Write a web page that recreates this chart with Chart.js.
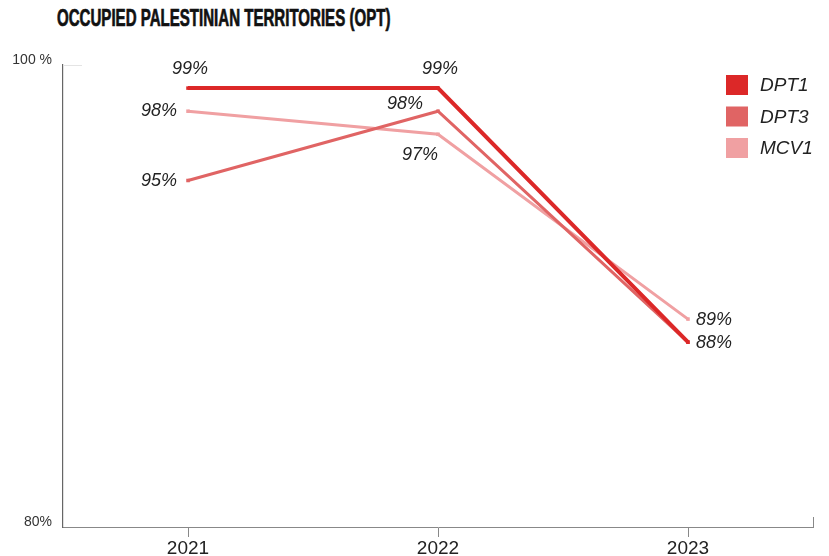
<!DOCTYPE html>
<html>
<head>
<meta charset="utf-8">
<script src="https://cdn.jsdelivr.net/npm/chart.js@4.4.1/dist/chart.umd.min.js"></script>
<style>
  html, body { margin: 0; padding: 0; background: #fff; }
  #wrap { position: relative; width: 829px; height: 556px; }
  #title {
    position: absolute; left: 57px; top: 5px;
    font-family: "Liberation Sans", Arial, sans-serif;
    font-weight: 700; font-size: 23px; color: #111;
    -webkit-text-stroke: 0.7px #111;
    white-space: nowrap; transform-origin: left top; transform: scaleX(0.655);
  }
  canvas { position: absolute; left: 0; top: 0; }
</style>
</head>
<body>
<div id="wrap">
  <div id="title">OCCUPIED PALESTINIAN TERRITORIES (OPT)</div>
  <canvas id="chart" width="829" height="556"></canvas>
</div>
<script>
(function () {
    "use strict";

    // data
    const years = ["2021", "2022", "2023"];
    const seriesNames = ["DPT1", "DPT3", "MCV1"];
    const dpt1 = [99, 99, 88];
    const dpt3 = [95, 98, 88];
    const mcv1 = [98, 97, 89];
    const yTicks = [80, 100];
    const yTickText = { 80: "80%", 100: "100 %" };

    const colors = ["rgb(220,40,40)", "rgb(224,100,100)", "rgb(240,160,162)"];
    const widths = [4, 3, 3];
    // where each value label sits relative to its point
    const labelPos = [
        ["above", "above", "right"],
        ["left", "aboveLeft", null],
        ["left", "belowLeft", "right"],
    ];

    const labelFont = 'italic 18px "Liberation Sans", Arial, sans-serif';

    const valueLabels = {
        id: "valueLabels",
        afterDatasetsDraw(chart) {
            const ctx = chart.ctx;
            ctx.save();
            ctx.font = labelFont;
            ctx.fillStyle = "#222";
            ctx.textBaseline = "middle";
            chart.data.datasets.forEach((ds, i) => {
                const meta = chart.getDatasetMeta(i);
                meta.data.forEach((pt, j) => {
                    const pos = labelPos[i][j];
                    if (!pos) return;
                    const txt = ds.data[j] + "%";
                    let x = pt.x, y = pt.y;
                    if (pos === "above") { ctx.textAlign = "center"; x += 2; y -= 19; }
                    else if (pos === "right") { ctx.textAlign = "left"; x += 8; y += 1; }
                    else if (pos === "left") { ctx.textAlign = "right"; x -= 11; }
                    else if (pos === "aboveLeft") { ctx.textAlign = "center"; x -= 33; y -= 7; }
                    else if (pos === "belowLeft") { ctx.textAlign = "center"; x -= 18; y += 21; }
                    ctx.fillText(txt, x, y);
                });
            });
            ctx.restore();
        },
    };

    const legendBox = {
        id: "legendBox",
        afterDraw(chart) {
            const ctx = chart.ctx;
            ctx.save();
            ctx.font = 'italic 19px "Liberation Sans", Arial, sans-serif';
            ctx.textBaseline = "middle";
            ctx.textAlign = "left";
            chart.data.datasets.forEach((ds, i) => {
                const y = 75 + i * 31.5;
                ctx.fillStyle = ds.borderColor;
                ctx.fillRect(726, y, 22, 20);
                ctx.fillStyle = "#222";
                ctx.fillText(ds.label, 760, y + 11);
            });
            // small end marks on the axes
            const a = chart.chartArea;
            ctx.strokeStyle = "#888";
            ctx.lineWidth = 1;
            ctx.beginPath();
            ctx.moveTo(a.right + 0.5, a.bottom);
            ctx.lineTo(a.right + 0.5, a.bottom - 10);
            ctx.stroke();
            ctx.strokeStyle = "#e4e4e4";
            ctx.beginPath();
            ctx.moveTo(a.left, a.top + 0.5);
            ctx.lineTo(a.left + 19, a.top + 0.5);
            ctx.stroke();
            ctx.restore();
        },
    };

    const seriesData = [dpt1, dpt3, mcv1];

    const ctx = document.getElementById("chart").getContext("2d");
    new Chart(ctx, {
        type: "line",
        data: {
            labels: years,
            datasets: seriesNames.map((name, i) => ({
                label: name,
                data: seriesData[i],
                borderColor: colors[i],
                backgroundColor: colors[i],
                borderWidth: widths[i],
                pointStyle: "rect",
                pointRadius: 2.5,
                pointBorderWidth: 0,
                tension: 0,
            })),
        },
        options: {
            responsive: false,
            animation: false,
            layout: { padding: { left: 0, right: 16, top: 65, bottom: 0 } },
            plugins: {
                legend: { display: false },
                tooltip: { enabled: false },
            },
            scales: {
                x: {
                    offset: true,
                    grid: {
                        offset: false,
                        drawOnChartArea: false,
                        drawTicks: true,
                        tickLength: 10,
                        color: "#888",
                    },
                    border: { display: true, color: "#888", width: 1 },
                    ticks: {
                        padding: 0,
                        color: "#222",
                        font: { family: '"Liberation Sans", Arial, sans-serif', size: 19 },
                    },
                    afterFit(scale) { scale.height = 29; },
                },
                y: {
                    min: 80,
                    max: 100,
                    afterBuildTicks(scale) {
                        scale.ticks = yTicks.map((v) => ({ value: v }));
                    },
                    grid: { display: false, drawTicks: false },
                    border: { display: true, color: "#666", width: 1.2 },
                    ticks: {
                        padding: 11,
                        labelOffset: -5,
                        color: "#333",
                        font: { family: '"Liberation Sans", Arial, sans-serif', size: 14 },
                        callback: (v) => yTickText[v],
                    },
                    afterFit(scale) { scale.width = 63; },
                },
            },
        },
        plugins: [valueLabels, legendBox],
    });
})();
</script>
</body>
</html>
